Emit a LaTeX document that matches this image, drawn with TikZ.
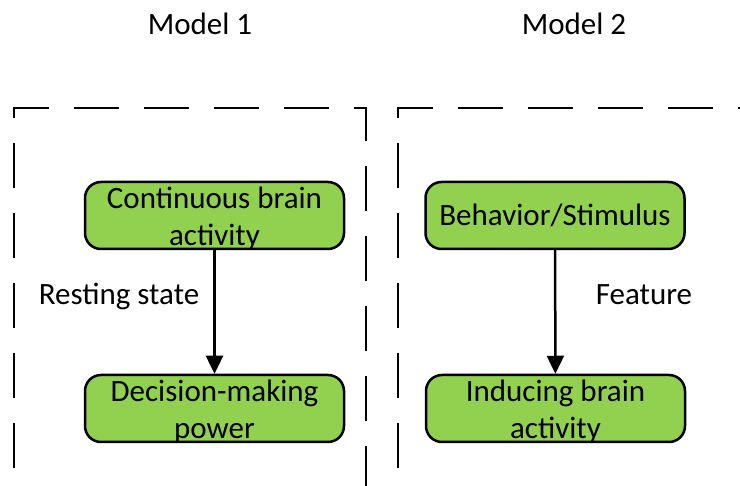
\documentclass[tikz,border=0pt]{standalone}
\usepackage{fontspec}
\setmainfont{Carlito}
\usetikzlibrary{arrows.meta}
\definecolor{boxgreen}{HTML}{92D050}
\tikzset{
  every node/.style={font=\fontsize{31pt}{37pt}\selectfont},
  greenbox/.style={draw=black, line width=2.5pt, fill=boxgreen, rounded corners=16pt,
    minimum width=259pt, minimum height=67pt, inner sep=0pt, align=center},
  twoline/.style={text height=62.5pt, text depth=1.5pt},
  frame/.style={draw=black, line width=2.5pt, dash pattern=on 45pt off 25pt, dash phase=18pt},
  arr/.style={draw=black, line width=2.5pt, -{Triangle[length=18pt,width=17pt]}},
  lbl/.style={anchor=base, inner sep=0pt}
}
\begin{document}
\begin{tikzpicture}[x=1pt,y=-1pt]
\useasboundingbox (0,0) rectangle (740,486);
\begin{scope}
\clip (0,0) rectangle (740,486);
\draw[frame] (14,520) -- (14,108) -- (366,108) -- (366,520);
\draw[frame] (398,520) -- (398,108) -- (780,108);
\end{scope}
\node[lbl] (m1) at (200,35) {Model 1};
\node[lbl] (m2) at (574,35) {Model 2};
\node[greenbox, twoline] (a1) at (214.5,215.5) {Continuous brain\\activity};
\node[greenbox, twoline] (a2) at (214.5,408.5) {Decision-making\\power};
\node[greenbox] (b1) at (555,215.5) {Behavior/Stimulus};
\node[greenbox, twoline] (b2) at (555.5,408.5) {Inducing brain\\activity};
\draw[arr] (a1) -- (a2);
\draw[arr] (b1) -- (b2);
\node[lbl] (rs) at (119,305) {Resting state};
\node[lbl] (ft) at (644,305) {Feature};
\end{tikzpicture}
\end{document}
